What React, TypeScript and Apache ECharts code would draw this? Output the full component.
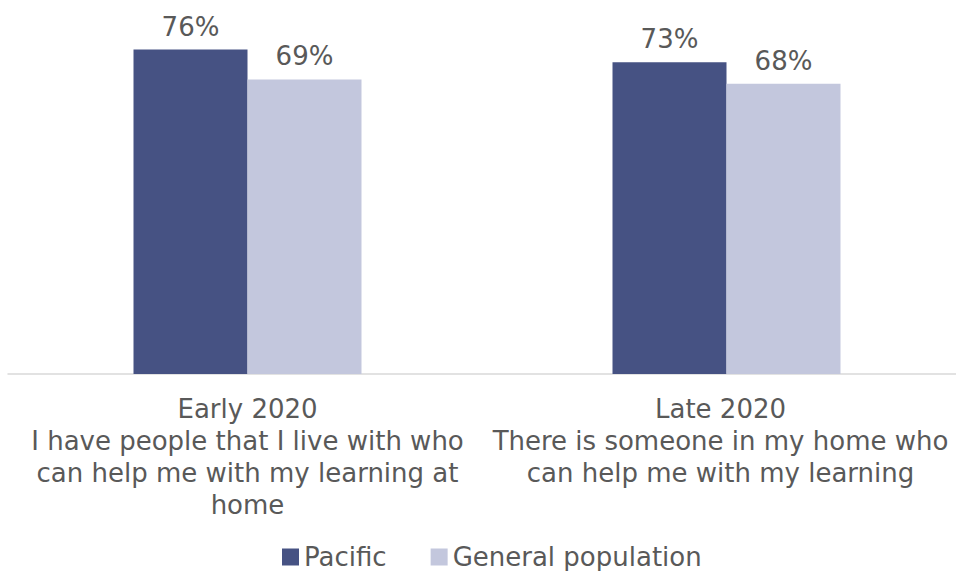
import React, { useEffect, useRef } from "react";
import * as echarts from "echarts";

const categories = [
  "Early 2020\nI have people that I live with who\ncan help me with my learning at\nhome",
  "Late 2020\nThere is someone in my home who\ncan help me with my learning",
];
const seriesNames = ["Pacific", "General population"];
const pacificValues = [76, 73];
const generalValues = [69, 68];

const FONT = "'DejaVu Sans', Verdana, sans-serif";
const TEXT = "#595959";

export default function App() {
  const ref = useRef<HTMLDivElement>(null);
  useEffect(() => {
    if (!ref.current) return;
    const chart = echarts.init(ref.current, undefined, { renderer: "svg" });
    const label = {
      show: true,
      position: "top",
      distance: 10,
      formatter: "{c}%",
      fontSize: 26,
      fontFamily: FONT,
      color: TEXT,
    };
    const axisData = categories.map((c, i) =>
      i === categories.length - 1 ? { value: c, textStyle: { padding: [0, 12, 0, 0] } } : c
    );
    chart.setOption({
      animation: false,
      textStyle: { fontFamily: FONT },
      grid: { left: 8, top: 0, right: 0, height: 374, containLabel: false },
      legend: {
        data: seriesNames,
        top: 539,
        left: 277,
        itemWidth: 17,
        itemHeight: 17,
        itemGap: 44,
        icon: "rect",
        textStyle: { fontSize: 26, color: TEXT, fontFamily: FONT },
      },
      xAxis: {
        type: "category",
        data: axisData,
        axisLine: { show: true, lineStyle: { color: "#D9D9D9", width: 1.5 } },
        axisTick: { show: false },
        axisLabel: {
          fontSize: 26,
          lineHeight: 32,
          color: TEXT,
          fontFamily: FONT,
          margin: 19,
          interval: 0,
          align: "center",
        },
      },
      yAxis: {
        type: "value",
        min: 0,
        max: 87.6,
        show: false,
        splitLine: { show: false },
      },
      series: [
        {
          name: seriesNames[0],
          type: "bar",
          data: pacificValues,
          barWidth: 114,
          barGap: "0%",
          itemStyle: { color: "#465283" },
          label,
        },
        {
          name: seriesNames[1],
          type: "bar",
          data: generalValues,
          barWidth: 114,
          barGap: "0%",
          itemStyle: { color: "#C3C7DD" },
          label,
        },
      ],
    });
    return () => chart.dispose();
  }, []);
  return (
    <div style={{ position: "fixed", left: 0, top: 0, width: 956, height: 571, overflow: "hidden", background: "#fff" }}>
      <div ref={ref} style={{ width: 966, height: 571 }} />
    </div>
  );
}
